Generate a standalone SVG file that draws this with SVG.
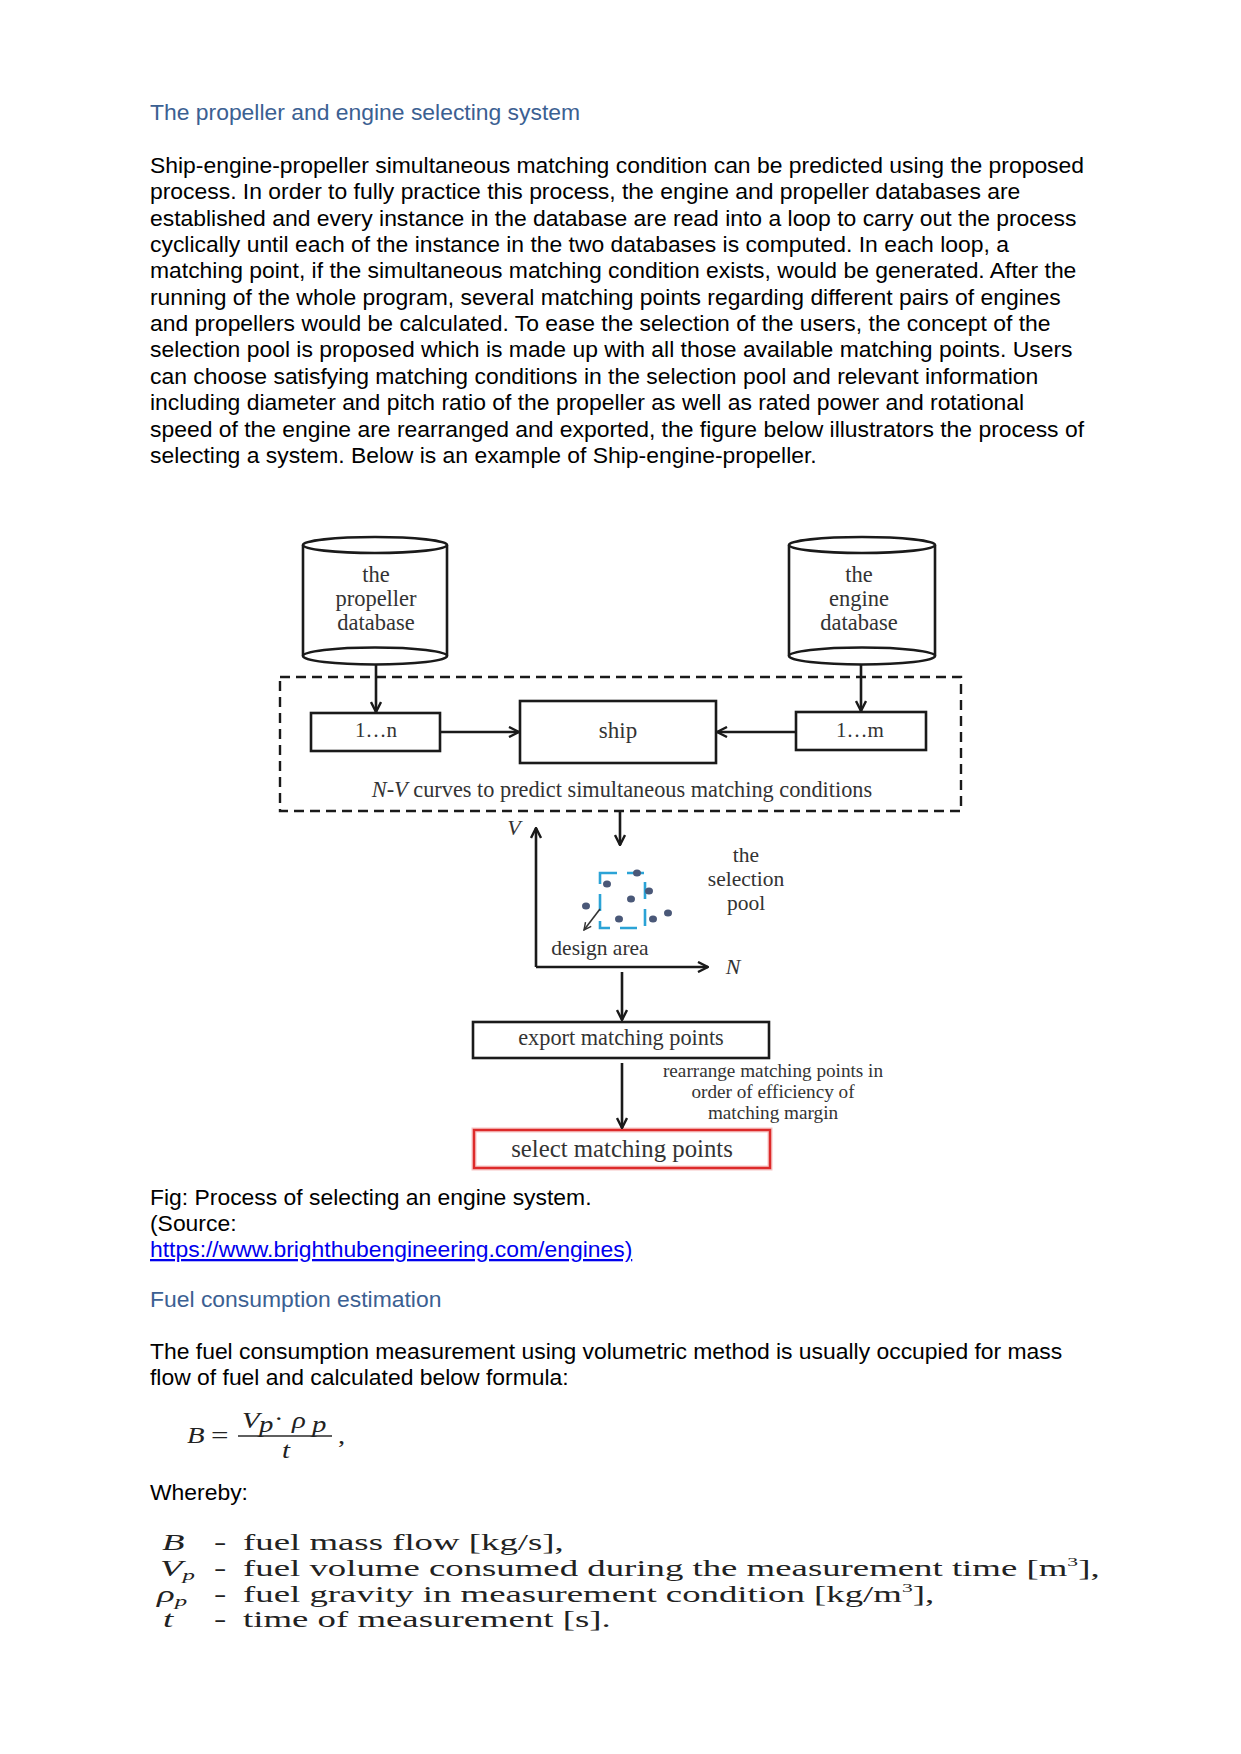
<svg xmlns="http://www.w3.org/2000/svg" width="1241" height="1754" viewBox="0 0 1241 1754">
<defs>
<style>
.body{font-family:"Liberation Sans",Arial,sans-serif;font-size:22.9px;fill:#000}
.head{font-family:"Liberation Sans",Arial,sans-serif;font-size:22.9px;fill:#3b6092}
.link{font-family:"Liberation Sans",Arial,sans-serif;font-size:22.9px;fill:#0000ee;text-decoration:underline}
.dg{font-family:"Liberation Serif","Times New Roman",serif;fill:#333;text-anchor:middle}
.shape{fill:#fff;stroke:#1a1a1a;stroke-width:2.6}
.conn{fill:none;stroke:#1a1a1a;stroke-width:2.6}
.math{font-family:"Liberation Serif","Times New Roman",serif;fill:#222;font-size:23px}
.it{font-style:italic}
</style>
<marker id="arr" viewBox="0 0 12 12" refX="11" refY="6" markerWidth="12" markerHeight="12" markerUnits="userSpaceOnUse" orient="auto">
<path d="M1,1 L11,6 L1,11" fill="none" stroke="#1a1a1a" stroke-width="2.4"/>
</marker>
<marker id="arrs" viewBox="0 0 10 10" refX="9" refY="5" markerWidth="9" markerHeight="9" markerUnits="userSpaceOnUse" orient="auto">
<path d="M1,1 L9,5 L1,9" fill="none" stroke="#333" stroke-width="1.6"/>
</marker>
</defs>
<rect width="1241" height="1754" fill="#fff"/>

<g id="text-top">
<text class="head" x="150" y="120">The propeller and engine selecting system</text>
<text class="body" x="150" y="173">Ship-engine-propeller simultaneous matching condition can be predicted using the proposed</text>
<text class="body" x="150" y="199.3">process. In order to fully practice this process, the engine and propeller databases are</text>
<text class="body" x="150" y="225.7">established and every instance in the database are read into a loop to carry out the process</text>
<text class="body" x="150" y="252">cyclically until each of the instance in the two databases is computed. In each loop, a</text>
<text class="body" x="150" y="278.4">matching point, if the simultaneous matching condition exists, would be generated. After the</text>
<text class="body" x="150" y="304.7">running of the whole program, several matching points regarding different pairs of engines</text>
<text class="body" x="150" y="331.1">and propellers would be calculated. To ease the selection of the users, the concept of the</text>
<text class="body" x="150" y="357.4">selection pool is proposed which is made up with all those available matching points. Users</text>
<text class="body" x="150" y="383.8">can choose satisfying matching conditions in the selection pool and relevant information</text>
<text class="body" x="150" y="410.1">including diameter and pitch ratio of the propeller as well as rated power and rotational</text>
<text class="body" x="150" y="436.5">speed of the engine are rearranged and exported, the figure below illustrators the process of</text>
<text class="body" x="150" y="462.8">selecting a system. Below is an example of Ship-engine-propeller.</text>
</g>

<g id="dashed-frame">
<rect x="280" y="677" width="681" height="134" fill="none" stroke="#1a1a1a" stroke-width="2.4" stroke-dasharray="10 6"/>
<text class="dg" x="622" y="797" font-size="22.3"><tspan class="it">N-V</tspan> curves to predict simultaneous matching conditions</text>
</g>

<g id="propeller-db">
<path d="M303,545 L303,656 L447,656 L447,545 Z" fill="#fff"/>
<line x1="303" y1="545" x2="303" y2="656" class="conn"/>
<line x1="447" y1="545" x2="447" y2="656" class="conn"/>
<ellipse class="shape" cx="375" cy="545" rx="72" ry="8"/>
<ellipse class="shape" cx="375" cy="656" rx="72" ry="8.5"/>
<text class="dg" x="376" y="582" font-size="22.5">the</text>
<text class="dg" x="376" y="606" font-size="22.5">propeller</text>
<text class="dg" x="376" y="630" font-size="22.5">database</text>
</g>

<g id="engine-db">
<path d="M789,545 L789,656 L935,656 L935,545 Z" fill="#fff"/>
<line x1="789" y1="545" x2="789" y2="656" class="conn"/>
<line x1="935" y1="545" x2="935" y2="656" class="conn"/>
<ellipse class="shape" cx="862" cy="545" rx="73" ry="8"/>
<ellipse class="shape" cx="862" cy="656" rx="73" ry="8.5"/>
<text class="dg" x="859" y="582" font-size="22.5">the</text>
<text class="dg" x="859" y="606" font-size="22.5">engine</text>
<text class="dg" x="859" y="630" font-size="22.5">database</text>
</g>

<g id="box-1n">
<rect class="shape" x="311" y="713" width="129" height="38"/>
<text class="dg" x="376" y="737" font-size="21">1…n</text>
</g>

<g id="box-ship">
<rect class="shape" x="520" y="701" width="196" height="62"/>
<text class="dg" x="618" y="738" font-size="23">ship</text>
</g>

<g id="box-1m">
<rect class="shape" x="796" y="712" width="130" height="38"/>
<text class="dg" x="860" y="737" font-size="21">1…m</text>
</g>

<g id="selection-pool">
<text class="dg it" x="514" y="835" font-size="22">V</text>
<text class="dg it" x="733" y="974" font-size="22">N</text>
<rect x="600" y="873" width="45" height="55" fill="none" stroke="#2ba3d6" stroke-width="2.6" stroke-dasharray="17 10"/>
<g fill="#4a5878">
<ellipse cx="637" cy="873" rx="4" ry="3.5"/>
<ellipse cx="607" cy="884" rx="4" ry="3.5"/>
<ellipse cx="631" cy="899" rx="4" ry="3.5"/>
<ellipse cx="649" cy="891" rx="4" ry="3.5"/>
<ellipse cx="586" cy="906" rx="4" ry="3.5"/>
<ellipse cx="619" cy="919" rx="4" ry="3.5"/>
<ellipse cx="653" cy="919" rx="4" ry="3.5"/>
<ellipse cx="668" cy="913" rx="4" ry="3.5"/>
</g>
<text class="dg" x="600" y="955" font-size="21.5">design area</text>
<text class="dg" x="746" y="862" font-size="21.5">the</text>
<text class="dg" x="746" y="886" font-size="21.5">selection</text>
<text class="dg" x="746" y="910" font-size="21.5">pool</text>
</g>

<g id="box-export">
<rect class="shape" x="473" y="1022" width="296" height="36"/>
<text class="dg" x="621" y="1045" font-size="22.3">export matching points</text>
</g>

<g id="note-rearrange">
<text class="dg" x="773" y="1077" font-size="19.2">rearrange matching points in</text>
<text class="dg" x="773" y="1098" font-size="19.2">order of efficiency of</text>
<text class="dg" x="773" y="1119" font-size="19.2">matching margin</text>
</g>

<g id="box-select">
<rect x="474" y="1130" width="296" height="38" fill="#fff" stroke="#f6c4c4" stroke-width="5"/>
<rect x="474" y="1130" width="296" height="38" fill="none" stroke="#dd2a2a" stroke-width="2.4"/>
<text class="dg" x="622" y="1157" font-size="24.8">select matching points</text>
</g>

<g id="connectors">
<line class="conn" x1="376" y1="664" x2="376" y2="712" marker-end="url(#arr)"/>
<line class="conn" x1="861" y1="664" x2="861" y2="711" marker-end="url(#arr)"/>
<line class="conn" x1="440" y1="732" x2="519" y2="732" marker-end="url(#arr)"/>
<line class="conn" x1="796" y1="732" x2="717" y2="732" marker-end="url(#arr)"/>
<line class="conn" x1="620" y1="812" x2="620" y2="845" marker-end="url(#arr)"/>
<line class="conn" x1="536" y1="967" x2="536" y2="828" marker-end="url(#arr)"/>
<line class="conn" x1="536" y1="967" x2="708" y2="967" marker-end="url(#arr)"/>
<line class="conn" x1="622" y1="972" x2="622" y2="1020" marker-end="url(#arr)"/>
<line class="conn" x1="622" y1="1063" x2="622" y2="1128" marker-end="url(#arr)"/>
<line x1="600" y1="909" x2="584" y2="930" stroke="#333" stroke-width="1.6" marker-end="url(#arrs)"/>
</g>

<g id="text-bottom">
<text class="body" x="150" y="1205">Fig: Process of selecting an engine system.</text>
<text class="body" x="150" y="1231">(Source:</text>
<text class="link" x="150" y="1257">https://www.brighthubengineering.com/engines)</text>
<text class="head" x="150" y="1307">Fuel consumption estimation</text>
<text class="body" x="150" y="1359">The fuel consumption measurement using volumetric method is usually occupied for mass</text>
<text class="body" x="150" y="1385">flow of fuel and calculated below formula:</text>
<text class="body" x="150" y="1500">Whereby:</text>
</g>

<g id="formula">
<text class="math it" transform="translate(187,1443) scale(1.25,1)" font-size="24">B</text>
<text class="math" transform="translate(211,1443) scale(1.35,1)" font-size="24">=</text>
<line x1="238" y1="1436" x2="332" y2="1436" stroke="#2a2a2a" stroke-width="1.3"/>
<text class="math it" transform="translate(242,1428) scale(1.25,1)" font-size="24">V</text>
<text class="math it" transform="translate(259,1432) scale(1.25,1)" font-size="16">p</text>
<text class="math" transform="translate(274,1426) scale(1.25,1)" font-size="24">·</text>
<text class="math it" transform="translate(292,1428) scale(1.25,1)" font-size="24">ρ</text>
<text class="math it" transform="translate(312,1432) scale(1.25,1)" font-size="16">p</text>
<text class="math it" transform="translate(282,1458) scale(1.25,1)" font-size="24">t</text>
<text class="math" transform="translate(338,1443) scale(1.25,1)" font-size="24">,</text>
</g>

<g id="definitions">
<text class="math it" transform="translate(162,1550) scale(1.6,1)">B</text>
<text class="math it" transform="translate(160,1576) scale(1.6,1)">V<tspan font-size="15.5" dy="4">p</tspan></text>
<text class="math it" transform="translate(157,1601.5) scale(1.6,1)">ρ<tspan font-size="15.5" dy="4">p</tspan></text>
<text class="math it" transform="translate(163,1627) scale(1.6,1)">t</text>
<text class="math" transform="translate(214,1550) scale(1.6,1)">-</text>
<text class="math" transform="translate(214,1576) scale(1.6,1)">-</text>
<text class="math" transform="translate(214,1601.5) scale(1.6,1)">-</text>
<text class="math" transform="translate(214,1627) scale(1.6,1)">-</text>
<text class="math" transform="translate(243,1550) scale(1.6,1)">fuel mass flow [kg/s],</text>
<text class="math" transform="translate(243,1576) scale(1.6,1)">fuel volume consumed during the measurement time [m<tspan font-size="13.5" dy="-10">3</tspan><tspan dy="10">],</tspan></text>
<text class="math" transform="translate(243,1601.5) scale(1.6,1)">fuel gravity in measurement condition [kg/m<tspan font-size="13.5" dy="-10">3</tspan><tspan dy="10">],</tspan></text>
<text class="math" transform="translate(243,1627) scale(1.6,1)">time of measurement [s].</text>
</g>
</svg>
